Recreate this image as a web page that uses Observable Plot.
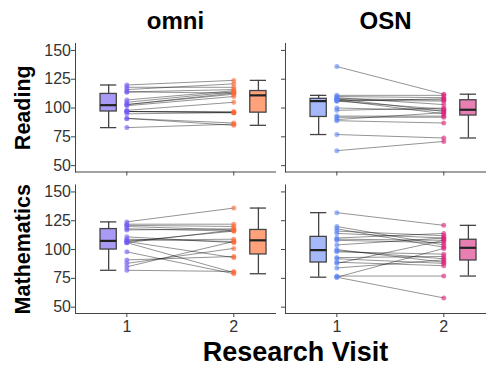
<!DOCTYPE html>
<html>
<head>
<meta charset="utf-8">
<script src="https://cdn.jsdelivr.net/npm/d3@7"></script>
<script src="https://cdn.jsdelivr.net/npm/@observablehq/plot@0.6"></script>
<style>
  html, body { margin: 0; padding: 0; background: #fff; }
</style>
</head>
<body>
<div id="chart"></div>
<script>
// ---- data ----
const sites = ["omni", "OSN"];
const tests = ["Reading", "Mathematics"];
const visits = [1, 2];
const yTicks = [50, 75, 100, 125, 150];
const xTicks = [1, 2];

// scores per subject, visit 1 and visit 2 (same index = same subject)
const omniReadingV1 = [120, 118, 116, 114, 114, 107, 105, 103, 103, 102, 98, 97, 97, 97, 95, 91, 91, 83];
const omniReadingV2 = [124, 118, 121, 116, 113, 115, 114, 112, 113, 110, 105, 97, 96, 96, 96, 87, 85, 86];
const osnReadingV1 = [136, 111, 110, 109, 108, 108, 107, 107, 106, 106, 100, 98, 93, 92, 90, 89, 77, 63];
const osnReadingV2 = [112, 111, 109, 103, 107, 97, 106, 95, 99, 108, 98, 100, 93, 92, 96, 87, 74, 71];
const omniMathV1 = [124, 122, 121, 120, 118, 117, 111, 109, 108, 107, 107, 106, 106, 98, 91, 88, 85, 82];
const omniMathV2 = [136, 122, 120, 117, 116, 118, 106, 107, 109, 116, 93, 80, 117, 79, 94, 101, 107, 81];
const osnMathV1 = [132, 120, 118, 116, 114, 110, 109, 108, 104, 100, 99, 98, 93, 92, 89, 88, 84, 77, 76, 76];
const osnMathV2 = [121, 104, 102, 112, 110, 114, 108, 106, 110, 89, 92, 96, 94, 88, 86, 108, 91, 77, 58, 101];

// ---- styles ----
const pointColors = { omni: ["#7358f3", "#ff6630"], OSN: ["#5a82f3", "#dd1f7c"] };
const boxFills = { omni: ["#a99af5", "#ffa27c"], OSN: ["#a5b8fa", "#e77fb3"] };
const boxOffset = { 1: -0.17, 2: 0.23 };
const boxHalf = 0.076;

const series = [
  { site: "omni", test: "Reading", v: [omniReadingV1, omniReadingV2] },
  { site: "OSN", test: "Reading", v: [osnReadingV1, osnReadingV2] },
  { site: "omni", test: "Mathematics", v: [omniMathV1, omniMathV2] },
  { site: "OSN", test: "Mathematics", v: [osnMathV1, osnMathV2] }
];

const rows = [];
series.forEach(s => {
  s.v[0].forEach((_, i) => {
    visits.forEach((visit, k) => {
      rows.push({ site: s.site, test: s.test, subject: i, visit, score: s.v[k][i] });
    });
  });
});

const stats = [];
series.forEach(s => {
  visits.forEach((visit, k) => {
    const vals = s.v[k].slice().sort(d3.ascending);
    const q1 = d3.quantile(vals, 0.25), med = d3.quantile(vals, 0.5), q3 = d3.quantile(vals, 0.75);
    const iqr = q3 - q1;
    const lo = d3.min(vals.filter(v => v >= q1 - 1.5 * iqr));
    const hi = d3.max(vals.filter(v => v <= q3 + 1.5 * iqr));
    const xc = visit + boxOffset[visit];
    stats.push({ site: s.site, test: s.test, visit, q1, med, q3, lo, hi, xc,
      x1: xc - boxHalf, x2: xc + boxHalf, fill: boxFills[s.site][k] });
  });
});

const chart = Plot.plot({
  width: 488,
  height: 367,
  marginLeft: 75,
  marginRight: 3,
  marginTop: 43,
  marginBottom: 54,
  style: { fontFamily: "'Liberation Sans', Arial, sans-serif", fontSize: "16px", background: "#fff", overflow: "visible" },
  fx: { domain: sites, axis: null, paddingInner: 0.0476, paddingOuter: 0, round: false },
  fy: { domain: tests, axis: null, paddingInner: 0.092, paddingOuter: 0, round: false },
  x: { domain: [0.52, 2.39] },
  y: { domain: [44.5, 156] },
  color: { type: "identity" },
  marks: [
    Plot.frame({ anchor: "left", stroke: "#444" }),
    Plot.frame({ anchor: "bottom", stroke: "#444" }),
    Plot.axisY({ ticks: yTicks, tickSize: 4, fill: "none", stroke: "#444", label: null, facetAnchor: null }),
    Plot.axisY({ ticks: yTicks, tickSize: 0, tickPadding: 4.5, color: "#333", label: null, facetAnchor: "left", fontSize: 16 }),
    Plot.axisX({ ticks: xTicks, tickSize: 4, fill: "none", stroke: "#444", label: null, facetAnchor: null }),
    Plot.axisX({ ticks: xTicks, tickFormat: d3.format("d"), tickSize: 0, tickPadding: 7, color: "#333", label: null, facetAnchor: "bottom", fontSize: 16 }),
    // paired lines
    Plot.line(rows, { fx: "site", fy: "test", x: "visit", y: "score", z: d => d.subject,
      stroke: "#000", strokeOpacity: 0.42, strokeWidth: 1 }),
    Plot.dot(rows, { fx: "site", fy: "test", x: "visit", y: "score",
      fill: d => pointColors[d.site][d.visit - 1], fillOpacity: 0.6, r: 2.5 }),
    // boxplots
    Plot.ruleX(stats, { fx: "site", fy: "test", x: "xc", y1: "q3", y2: "hi", stroke: "#444", strokeWidth: 1.3 }),
    Plot.ruleX(stats, { fx: "site", fy: "test", x: "xc", y1: "q1", y2: "lo", stroke: "#444", strokeWidth: 1.3 }),
    Plot.ruleY(stats, { fx: "site", fy: "test", y: "hi", x1: "x1", x2: "x2", stroke: "#444", strokeWidth: 1.3 }),
    Plot.ruleY(stats, { fx: "site", fy: "test", y: "lo", x1: "x1", x2: "x2", stroke: "#444", strokeWidth: 1.3 }),
    Plot.rect(stats, { fx: "site", fy: "test", x1: "x1", x2: "x2", y1: "q1", y2: "q3",
      fill: "fill", stroke: "#444", strokeWidth: 1.3 }),
    Plot.ruleY(stats, { fx: "site", fy: "test", y: "med", x1: "x1", x2: "x2", stroke: "#222", strokeWidth: 2.2 }),
    // facet titles
    Plot.text(sites, { fx: d => d, fy: () => tests[0], text: d => d, frameAnchor: "top",
      lineAnchor: "middle", dy: -22, fontSize: 24, fontWeight: "bold", fill: "#000" }),
    Plot.text(tests, { fy: d => d, fx: () => sites[0], text: d => d, frameAnchor: "left",
      textAnchor: "middle", lineAnchor: "middle", rotate: -90, dx: -52, fontSize: 21.5, fontWeight: "bold", fill: "#000" }),
    Plot.text(["Research Visit"], { fx: () => sites[0], fy: () => tests[1], text: d => d,
      frameAnchor: "bottom-right", textAnchor: "middle", lineAnchor: "middle", dx: 20, dy: 39,
      fontSize: 27, fontWeight: "bold", fill: "#000" })
  ]
});
document.getElementById("chart").appendChild(chart);
</script>
</body>
</html>
